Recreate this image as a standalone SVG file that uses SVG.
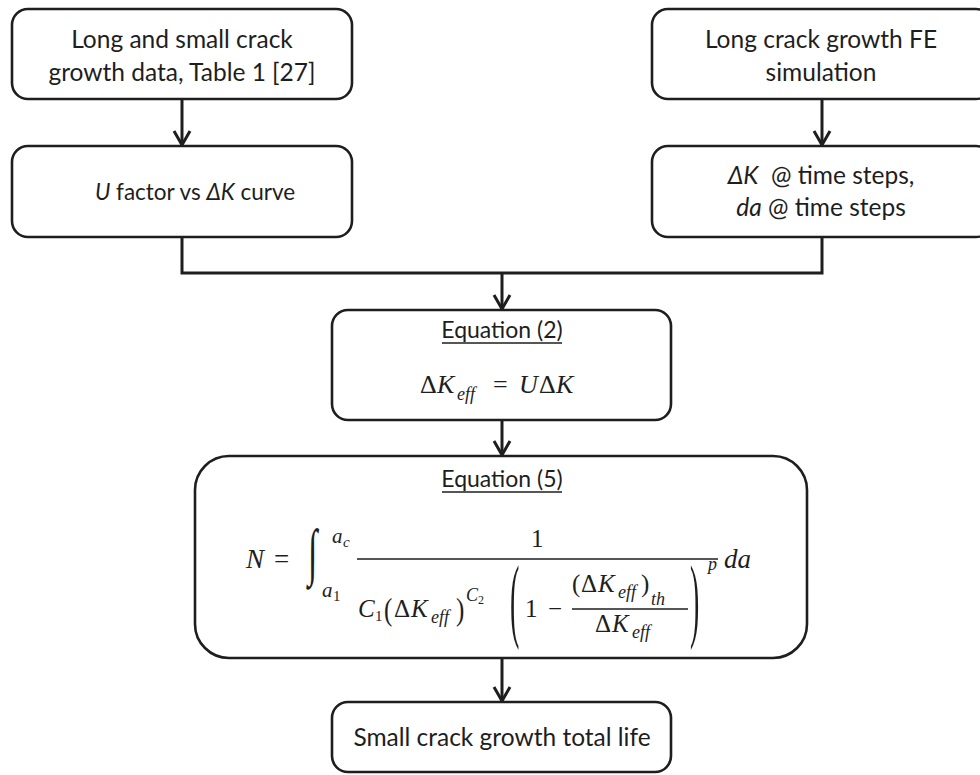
<svg xmlns="http://www.w3.org/2000/svg" width="980" height="775" viewBox="0 0 980 775">
<defs>
<style>
.box{fill:#fff;stroke:#1e1e1e;stroke-width:2.6}
.lbl{font-family:Lato,"Open Sans","Liberation Sans",sans-serif;font-size:24.5px;fill:#1e1e1e;text-anchor:middle;white-space:pre}
.eq{font-size:23px}
.it{font-style:italic}
.m{font-family:"Liberation Serif","DejaVu Serif",serif;font-style:italic;fill:#1e1e1e}
.mu{font-family:"Liberation Serif","DejaVu Serif",serif;font-style:normal;fill:#1e1e1e}
.conn{fill:none;stroke:#1e1e1e;stroke-width:3}
.head{fill:none;stroke:#1e1e1e;stroke-width:3}
.ul{stroke:#1e1e1e;stroke-width:1.4}
.bar{stroke:#1e1e1e;stroke-width:1.4}
</style>
</defs>
<rect width="980" height="775" fill="#fff"/>

<g id="connectors">
<path class="conn" d="M182,99 V144"/>
<path class="conn" d="M822,99 V144"/>
<path class="conn" d="M182,237 V273 H822 V237"/>
<path class="conn" d="M502,273 V308"/>
<path class="conn" d="M502,420 V454"/>
<path class="conn" d="M502,658 V700"/>
<path class="head" d="M174,131 L182,145 L190,131"/>
<path class="head" d="M814,131 L822,145 L830,131"/>
<path class="head" d="M494,295 L502,309 L510,295"/>
<path class="head" d="M494,441 L502,455 L510,441"/>
<path class="head" d="M494,687 L502,701 L510,687"/>
</g>

<g id="n1">
<rect class="box" x="12" y="9" width="340" height="90" rx="16"/>
<text class="lbl" x="182" y="48">Long and small crack</text>
<text class="lbl" x="182" y="81">growth data, Table 1 [27]</text>
</g>

<g id="n2">
<rect class="box" x="12" y="146" width="340" height="91" rx="16"/>
<text class="lbl" x="195" y="200" style="font-size:22.5px"><tspan class="it">U</tspan> factor vs <tspan class="it">ΔK</tspan> curve</text>
</g>

<g id="n3">
<rect class="box" x="652" y="9" width="340" height="90" rx="16"/>
<text class="lbl" x="821" y="48">Long crack growth FE</text>
<text class="lbl" x="821" y="81">simulation</text>
</g>

<g id="n4">
<rect class="box" x="652" y="146" width="340" height="91" rx="16"/>
<text class="lbl" x="821" y="184"><tspan class="it">ΔK</tspan>  @ time steps,</text>
<text class="lbl" x="821" y="216"><tspan class="it">da</tspan> @ time steps</text>
</g>

<g id="n5">
<rect class="box" x="332" y="310" width="339" height="110" rx="16"/>
<text class="lbl eq" x="502" y="338">Equation (2)</text>
<line class="ul" x1="442" y1="343" x2="562" y2="343"/>
<text class="mu" x="420" y="393" font-size="26">Δ</text>
<text class="m" x="437" y="393" font-size="26">K</text>
<text class="m" x="457" y="400" font-size="18">eff</text>
<text class="mu" x="493" y="393" font-size="26">=</text>
<text class="m" x="519" y="393" font-size="26">U</text>
<text class="mu" x="539" y="393" font-size="26">Δ</text>
<text class="m" x="556" y="393" font-size="26">K</text>
</g>

<g id="n6">
<rect class="box" x="195" y="456" width="612" height="202" rx="34"/>
<text class="lbl eq" x="502" y="487">Equation (5)</text>
<line class="ul" x1="442" y1="492" x2="562" y2="492"/>
<text class="m" x="246" y="568" font-size="27">N</text>
<text class="mu" x="274" y="568" font-size="27">=</text>
<text class="m" font-size="34" transform="translate(308,573) scale(1,1.85)">∫</text>
<text class="m" x="332" y="543" font-size="21">a</text>
<text class="m" x="343" y="547" font-size="15">c</text>
<text class="m" x="322" y="597" font-size="21">a</text>
<text class="mu" x="333" y="601" font-size="15">1</text>
<text class="mu" x="531" y="547" font-size="25">1</text>
<line class="bar" x1="357" y1="559" x2="718" y2="559"/>
<text class="m" x="358" y="617" font-size="25">C</text>
<text class="mu" x="375" y="621" font-size="15">1</text>
<text class="mu" x="0" y="0" font-size="25" transform="translate(384,620) scale(1,1.25)">(</text>
<text class="mu" x="394" y="617" font-size="25">Δ</text>
<text class="m" x="411" y="617" font-size="25">K</text>
<text class="m" x="431" y="623" font-size="18">eff</text>
<text class="mu" x="0" y="0" font-size="25" transform="translate(456,620) scale(1,1.25)">)</text>
<text class="m" x="466" y="601" font-size="18">C</text>
<text class="mu" x="478" y="604" font-size="12">2</text>
<text class="mu" x="0" y="0" font-size="28" transform="translate(510,630) scale(1,3.3)">(</text>
<text class="mu" x="525" y="617" font-size="25">1</text>
<text class="mu" x="548" y="617" font-size="25">−</text>
<text class="mu" x="572" y="592" font-size="25">(</text>
<text class="mu" x="581" y="592" font-size="25">Δ</text>
<text class="m" x="598" y="592" font-size="25">K</text>
<text class="m" x="618" y="598" font-size="18">eff</text>
<text class="mu" x="641" y="592" font-size="25">)</text>
<text class="m" x="651" y="605" font-size="18">th</text>
<line class="bar" x1="572" y1="609" x2="688" y2="609"/>
<text class="mu" x="595" y="632" font-size="25">Δ</text>
<text class="m" x="612" y="632" font-size="25">K</text>
<text class="m" x="632" y="638" font-size="18">eff</text>
<text class="mu" x="0" y="0" font-size="28" transform="translate(690,630) scale(1,3.3)">)</text>
<text class="m" x="708" y="570" font-size="18">p</text>
<text class="m" x="724" y="568" font-size="27">da</text>
</g>

<g id="n7">
<rect class="box" x="332" y="702" width="339" height="70" rx="16"/>
<text class="lbl" x="502" y="746">Small crack growth total life</text>
</g>
</svg>
